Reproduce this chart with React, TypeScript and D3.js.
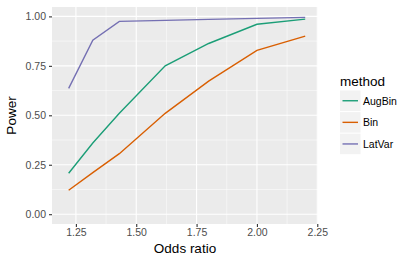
import { useEffect, useRef } from "react";
import * as d3 from "d3";

const ODDS_RATIOS = [1.22, 1.32, 1.43, 1.62, 1.8, 2.0, 2.2];
const METHODS = ["AugBin", "Bin", "LatVar"];
const AUGBIN = [0.207, 0.36, 0.51, 0.75, 0.863, 0.96, 0.986];
const BIN = [0.121, 0.21, 0.306, 0.51, 0.673, 0.828, 0.9];
const LATVAR = [0.636, 0.88, 0.975, 0.98, 0.985, 0.99, 0.995];
const X_TICKS = [1.25, 1.5, 1.75, 2.0, 2.25];
const Y_TICKS = [0, 0.25, 0.5, 0.75, 1.0];

const COLORS = ["#1B9E77", "#D95F02", "#7570B3"];

export default function App() {
  const svgRef = useRef<SVGSVGElement>(null);
  const width = 413;
  const height = 262;

  useEffect(() => {
    if (!svgRef.current) return;
    const svg = d3.select(svgRef.current);
    svg.selectAll("*").remove();

    const panel = { left: 52, right: 318, top: 7, bottom: 224 };
    const font = "'Liberation Sans', Arial, sans-serif";

    const xScale = d3
      .scaleLinear()
      .domain([1.151, 2.253])
      .range([panel.left, panel.right]);
    const yScale = d3
      .scaleLinear()
      .domain([-0.0495, 1.0475])
      .range([panel.bottom, panel.top]);

    svg
      .append("rect")
      .attr("width", width)
      .attr("height", height)
      .attr("fill", "#ffffff");

    // Panel background
    svg
      .append("rect")
      .attr("x", panel.left)
      .attr("y", panel.top)
      .attr("width", panel.right - panel.left)
      .attr("height", panel.bottom - panel.top)
      .attr("fill", "#EBEBEB");

    // Minor grid
    const xMinor = X_TICKS.slice(0, -1).map((t) => t + 0.125).concat([1.125]);
    const yMinor = Y_TICKS.slice(0, -1).map((t) => t + 0.125);
    xMinor
      .filter((t) => xScale(t) > panel.left && xScale(t) < panel.right)
      .forEach((t) => {
        svg
          .append("line")
          .attr("x1", xScale(t))
          .attr("x2", xScale(t))
          .attr("y1", panel.top)
          .attr("y2", panel.bottom)
          .attr("stroke", "#ffffff")
          .attr("stroke-width", 0.5);
      });
    yMinor.forEach((t) => {
      svg
        .append("line")
        .attr("x1", panel.left)
        .attr("x2", panel.right)
        .attr("y1", yScale(t))
        .attr("y2", yScale(t))
        .attr("stroke", "#ffffff")
        .attr("stroke-width", 0.5);
    });

    // Major grid
    X_TICKS.forEach((t) => {
      svg
        .append("line")
        .attr("x1", xScale(t))
        .attr("x2", xScale(t))
        .attr("y1", panel.top)
        .attr("y2", panel.bottom)
        .attr("stroke", "#ffffff")
        .attr("stroke-width", 1.1);
    });
    Y_TICKS.forEach((t) => {
      svg
        .append("line")
        .attr("x1", panel.left)
        .attr("x2", panel.right)
        .attr("y1", yScale(t))
        .attr("y2", yScale(t))
        .attr("stroke", "#ffffff")
        .attr("stroke-width", 1.1);
    });

    // Lines
    const series = [AUGBIN, BIN, LATVAR];
    const line = d3
      .line<number>()
      .x((_, i) => xScale(ODDS_RATIOS[i]))
      .y((d) => yScale(d));
    series.forEach((vals, idx) => {
      svg
        .append("path")
        .attr("d", line(vals))
        .attr("fill", "none")
        .attr("stroke", COLORS[idx])
        .attr("stroke-width", 1.4);
    });

    // Axes ticks and labels
    const xAxis = svg
      .append("g")
      .attr("transform", `translate(0,${panel.bottom})`)
      .call(
        d3
          .axisBottom(xScale)
          .tickValues(X_TICKS)
          .tickSize(3)
          .tickPadding(2)
          .tickFormat(d3.format(".2f")),
      );
    xAxis.select(".domain").remove();
    xAxis.selectAll("line").attr("stroke", "#333333").attr("stroke-width", 1.1);
    xAxis
      .selectAll("text")
      .attr("fill", "#4D4D4D")
      .attr("font-size", "10.5px")
      .attr("font-family", font);

    const yAxis = svg
      .append("g")
      .attr("transform", `translate(${panel.left},0)`)
      .call(
        d3
          .axisLeft(yScale)
          .tickValues(Y_TICKS)
          .tickSize(3)
          .tickPadding(3)
          .tickFormat(d3.format(".2f")),
      );
    yAxis.select(".domain").remove();
    yAxis.selectAll("line").attr("stroke", "#333333").attr("stroke-width", 1.1);
    yAxis
      .selectAll("text")
      .attr("fill", "#4D4D4D")
      .attr("font-size", "10.5px")
      .attr("font-family", font);

    // Axis titles
    svg
      .append("text")
      .attr("x", (panel.left + panel.right) / 2)
      .attr("y", 253)
      .attr("text-anchor", "middle")
      .attr("font-size", "13.5px")
      .attr("font-family", font)
      .attr("fill", "#000000")
      .text("Odds ratio");

    svg
      .append("text")
      .attr("transform", `translate(16,${(panel.top + panel.bottom) / 2}) rotate(-90)`)
      .attr("text-anchor", "middle")
      .attr("font-size", "13.5px")
      .attr("font-family", font)
      .attr("fill", "#000000")
      .text("Power");

    // Legend
    const legend = svg.append("g").attr("transform", "translate(340,0)");
    legend
      .append("text")
      .attr("x", 0)
      .attr("y", 86)
      .attr("font-size", "13.5px")
      .attr("font-family", font)
      .attr("fill", "#000000")
      .text("method");

    METHODS.forEach((m, i) => {
      const top = 90.5 + i * 21.6;
      legend
        .append("rect")
        .attr("x", 0)
        .attr("y", top)
        .attr("width", 20.5)
        .attr("height", 20.5)
        .attr("fill", "#F2F2F2");
      legend
        .append("line")
        .attr("x1", 2.5)
        .attr("x2", 18)
        .attr("y1", top + 10.25)
        .attr("y2", top + 10.25)
        .attr("stroke", COLORS[i])
        .attr("stroke-width", 1.4);
      legend
        .append("text")
        .attr("x", 23)
        .attr("y", top + 14.3)
        .attr("font-size", "10.5px")
        .attr("font-family", font)
        .attr("fill", "#000000")
        .text(m);
    });
  }, []);

  return (
    <svg
      ref={svgRef}
      width={width}
      height={height}
      style={{ position: "absolute", left: 0, top: 0 }}
    />
  );
}
